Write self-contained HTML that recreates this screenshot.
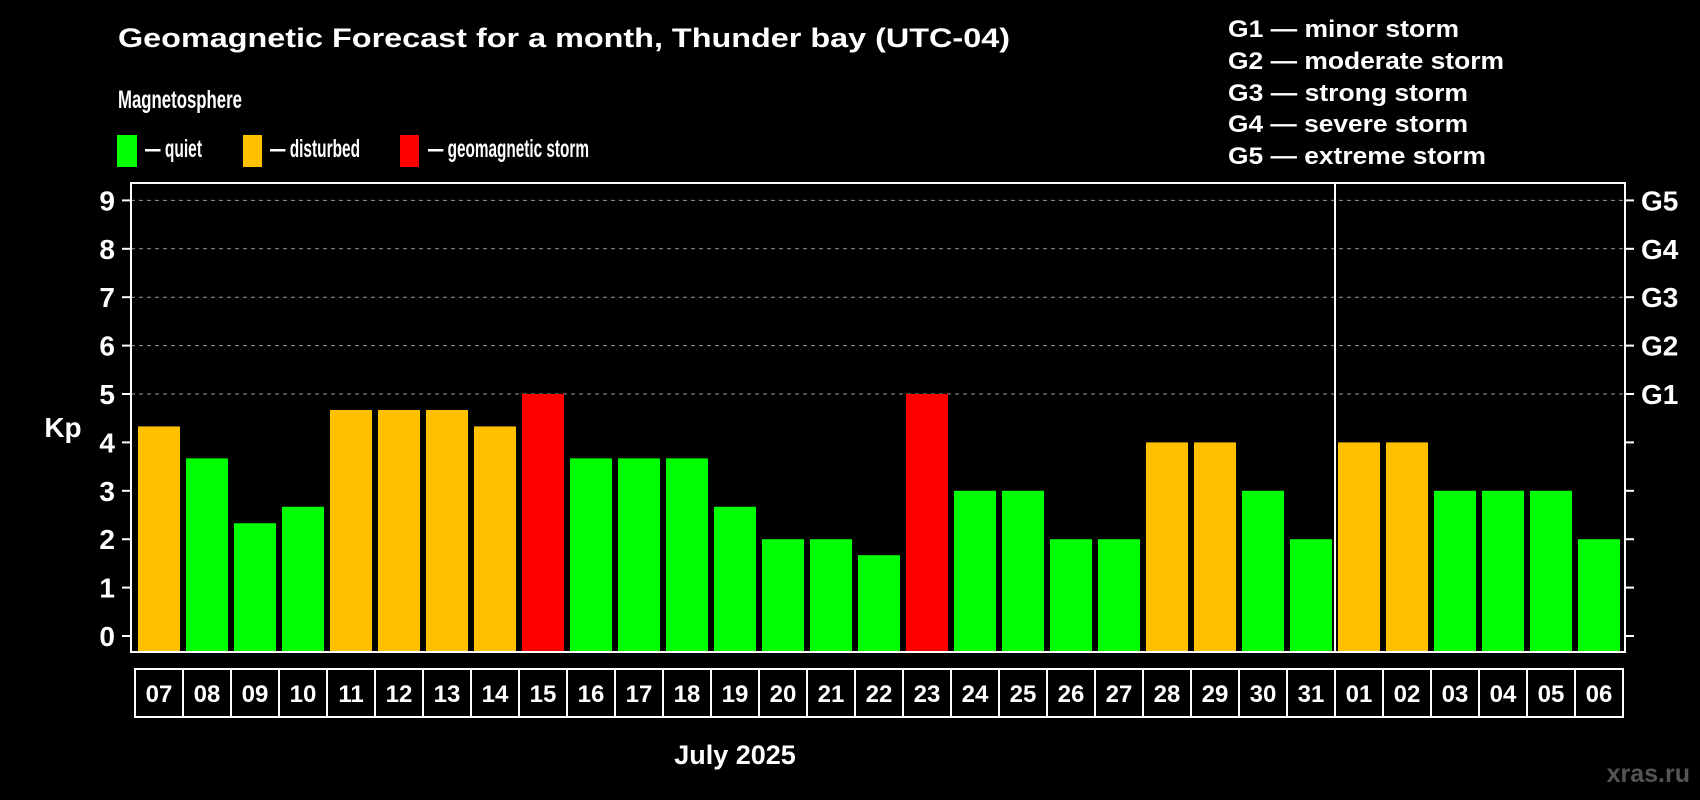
<!DOCTYPE html>
<html><head><meta charset="utf-8"><style>
html,body{margin:0;padding:0;background:#000;}
svg{display:block;font-family:"Liberation Sans",Arial,sans-serif;font-weight:bold;}
</style></head><body>
<svg id="chart" width="1700" height="800" viewBox="0 0 1700 800">
<rect width="1700" height="800" fill="#000"/>
<text x="118" y="47" fill="#fff" font-size="27" textLength="892" lengthAdjust="spacingAndGlyphs">Geomagnetic Forecast for a month, Thunder bay (UTC-04)</text>
<text x="118" y="108" fill="#fff" font-size="25" textLength="124" lengthAdjust="spacingAndGlyphs">Magnetosphere</text>
<g><rect x="117" y="135" width="20" height="32" fill="#00ff00"/><text x="145" y="157" fill="#fff" font-size="25" textLength="57" lengthAdjust="spacingAndGlyphs">— quiet</text></g>
<g><rect x="243" y="135" width="19" height="32" fill="#ffc000"/><text x="270" y="157" fill="#fff" font-size="25" textLength="90" lengthAdjust="spacingAndGlyphs">— disturbed</text></g>
<g><rect x="400" y="135" width="19" height="32" fill="#ff0000"/><text x="428" y="157" fill="#fff" font-size="25" textLength="161" lengthAdjust="spacingAndGlyphs">— geomagnetic storm</text></g>
<g fill="#fff" font-size="24">
<text x="1228" y="37" textLength="231" lengthAdjust="spacingAndGlyphs">G1 — minor storm</text>
<text x="1228" y="69" textLength="276" lengthAdjust="spacingAndGlyphs">G2 — moderate storm</text>
<text x="1228" y="101" textLength="240" lengthAdjust="spacingAndGlyphs">G3 — strong storm</text>
<text x="1228" y="132" textLength="240" lengthAdjust="spacingAndGlyphs">G4 — severe storm</text>
<text x="1228" y="164" textLength="258" lengthAdjust="spacingAndGlyphs">G5 — extreme storm</text>
</g>
<text x="63" y="437" fill="#fff" font-size="28" text-anchor="middle">Kp</text>
<g id="grid"></g><g id="bars"></g><g id="axes"></g><g id="xlabels"></g>
<text x="735" y="764" fill="#fff" font-size="27" text-anchor="middle">July 2025</text>
<text x="1690" y="782" fill="#555" font-size="25" text-anchor="end">xras.ru</text>
</svg>
<script>
const days = ["07","08","09","10","11","12","13","14","15","16","17","18","19","20","21","22","23","24","25","26","27","28","29","30","31","01","02","03","04","05","06"];
const kpValues = [4.33,3.67,2.33,2.67,4.67,4.67,4.67,4.33,5,3.67,3.67,3.67,2.67,2,2,1.67,5,3,3,2,2,4,4,3,2,4,4,3,3,3,2];
const yTicks = [0,1,2,3,4,5,6,7,8,9];
const gLabels = ["","","","","","G1","G2","G3","G4","G5"];
const NS="http://www.w3.org/2000/svg";
const L=131,R=1625,T=183,B=652,Y0=636,UNIT=48.4,X0=135,STEP=48,BW=42;
function y(v){return Y0-v*UNIT;}
function x(i){return X0+i*STEP;}
function mk(t,a,p){const e=document.createElementNS(NS,t);for(const k in a)e.setAttribute(k,a[k]);p.appendChild(e);return e;}
const grid=document.getElementById('grid'),bars=document.getElementById('bars'),axes=document.getElementById('axes'),xl=document.getElementById('xlabels');
yTicks.forEach((t,i)=>{
  if(t>=5){const g=mk('line',{x1:L,x2:R,y1:y(t),y2:y(t),stroke:'#999','stroke-width':1,'stroke-dasharray':'4,4'},grid);
  
  }
  const tl=mk('line',{x1:L-9,x2:L,y1:y(t),y2:y(t),stroke:'#fff','stroke-width':2},axes);
  
  
  const tr=mk('line',{x1:R,x2:R+9,y1:y(t),y2:y(t),stroke:'#fff','stroke-width':2},axes);
  
  
  const lab=mk('text',{x:115,y:y(t)+10,fill:'#fff','font-size':28,'text-anchor':'end'},axes);
  lab.textContent=t;
  
  
  if(gLabels[i]){const gl=mk('text',{x:1641,y:y(t)+10,fill:'#fff','font-size':28},axes);
  gl.textContent=gLabels[i];
  
  }
});
kpValues.forEach((v,i)=>{
  const c=v>=5?'#ff0000':(v>=4?'#ffc000':'#00ff00');
  const b=mk('rect',{x:x(i)+3,y:y(v),width:BW,height:B-y(v),fill:c},bars);
  
  
  const cell=mk('rect',{x:x(i),y:669,width:STEP,height:48,fill:'none',stroke:'#fff','stroke-width':2},xl);
  
  
  const t=mk('text',{x:x(i)+STEP/2,y:702,fill:'#fff','font-size':24,'text-anchor':'middle'},xl);
  t.textContent=days[i];
  
  
});
const fr=mk('rect',{x:L,y:T,width:R-L,height:B-T,fill:'none',stroke:'#fff','stroke-width':2},axes);


const sep=mk('line',{x1:x(25),x2:x(25),y1:T,y2:B,stroke:'#fff','stroke-width':2},axes);


</script>
</body></html>
